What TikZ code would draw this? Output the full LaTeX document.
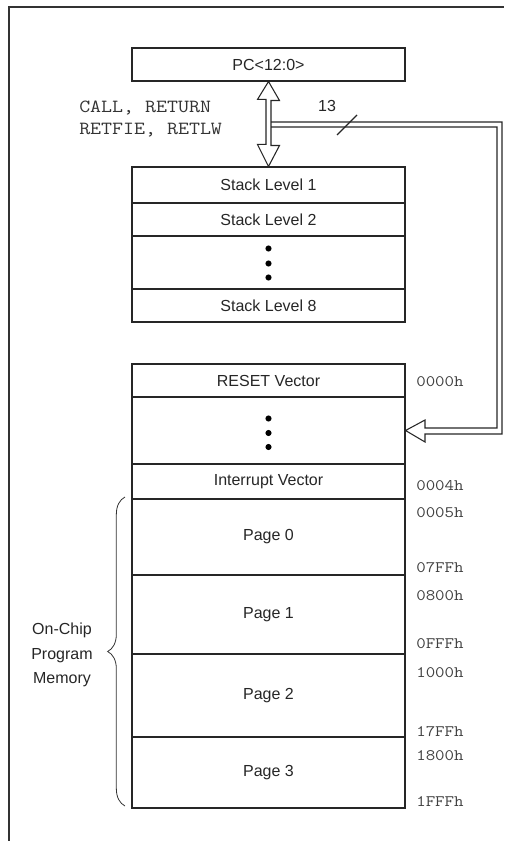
\documentclass[tikz,border=0pt]{standalone}
\usepackage{fontspec}
\setmainfont{Liberation Sans}
\newfontfamily\codefont[FakeStretch=1.15]{Latin Modern Mono}
\usepackage{tikz}
\usetikzlibrary{decorations.pathreplacing}

\begin{document}
\begin{tikzpicture}[x=0.75pt,y=-0.75pt]
\tikzstyle{celda} = [draw=black!85, line width=0.8pt, minimum width=204.75pt, inner sep=0pt, text=black!85, font=\fontsize{12}{14}\selectfont]
\tikzstyle{dir} = [anchor=west, inner sep=0pt, text=black!75, font=\codefont\fontsize{12}{14}\selectfont]
\tikzstyle{punto} = [fill=black]

\useasboundingbox (0,0) rectangle (504,841);
\draw[black!80, line width=1pt] (9,841) -- (9,7) -- (504,7);

% program counter and stack
\node[celda, minimum height=24.75pt] (pc) at (268.5,64.5) {PC<12:0>};
\node[celda, minimum height=27pt] (lvl1) at (268.5,185) {Stack Level 1};
\node[celda, minimum height=24.75pt] (lvl2) at (268.5,219.5) {Stack Level 2};
\node[celda, minimum height=39.75pt] (sdots) at (268.5,262.5) {};
\node[celda, minimum height=24.75pt] (lvl8) at (268.5,305.5) {Stack Level 8};

% program memory
\node[celda, minimum height=24.75pt] (reset) at (268.5,380.5) {RESET Vector};
\node[celda, minimum height=50.25pt] (mdots) at (268.5,430.5) {};
\node[celda, minimum height=26.25pt] (intv) at (268.5,481.5) {Interrupt Vector};
\node[celda, minimum height=57pt] (page0) at (268.5,537) {Page 0};
\node[celda, minimum height=59.25pt] (page1) at (268.5,614.5) {Page 1};
\node[celda, minimum height=62.25pt] (page2) at (268.5,695.5) {Page 2};
\node[celda, minimum height=53.25pt] (page3) at (268.5,772.5) {Page 3};

\foreach \d in {-14,1,15} \fill[punto, shift={(sdots.center)}] (0,\d) circle (2.3pt);
\foreach \d in {-12,2.5,16.5} \fill[punto, shift={(mdots.center)}] (0,\d) circle (2.3pt);

% double arrow between PC and stack
\draw[black!85, line width=0.8pt, fill=white] (pc.south) -- ++(11,19) -- ++(-8.5,0) -- ++(0,45) -- ++(8.5,0)
  -- (lvl1.north) -- ++(-11,-22) -- ++(8.5,0) -- ++(0,-45) -- ++(-8.5,0) -- cycle;

% 13-bit bus to memory
\coordinate (bus) at (271,122);
\draw[black!85, line width=0.8pt] (bus) -- (502,122) -- (502,434) -- (425,434) -- (425,442)
  -- (mdots.east) -- (425,420) -- (425,428) -- (497,428) -- (497,127) -- ([yshift=-3.75pt]bus);
\draw[black!85, line width=0.8pt] (337,135) -- (357,115);
\node[text=black!85, font=\fontsize{12}{14}\selectfont] (ancho) at (327,106) {13};

\node[anchor=west, align=left, inner sep=0pt, text=black!80, font=\codefont\fontsize{13.9}{16.5}\selectfont] (ops) at (79,119) {CALL, RETURN\\RETFIE, RETLW};

% addresses
\node[dir] (a0) at (416,382) {0000h};
\node[dir] (a4) at (416,486) {0004h};
\node[dir] (a5) at (416,513) {0005h};
\node[dir] (a7ff) at (416,568) {07FFh};
\node[dir] (a800) at (416,596) {0800h};
\node[dir] (afff) at (416,644) {0FFFh};
\node[dir] (a1000) at (416,673) {1000h};
\node[dir] (a17ff) at (416,732) {17FFh};
\node[dir] (a1800) at (416,756) {1800h};
\node[dir] (a1fff) at (416,802) {1FFFh};

% brace
\draw[black!80, line width=0.6pt, decorate, decoration={brace, amplitude=13pt}] (125,806) -- (125,497);
\node[align=center, text=black!85, font=\fontsize{12}{18.4}\selectfont] (mem) at (62,655) {On-Chip\\Program\\Memory};
\end{tikzpicture}
\end{document}
